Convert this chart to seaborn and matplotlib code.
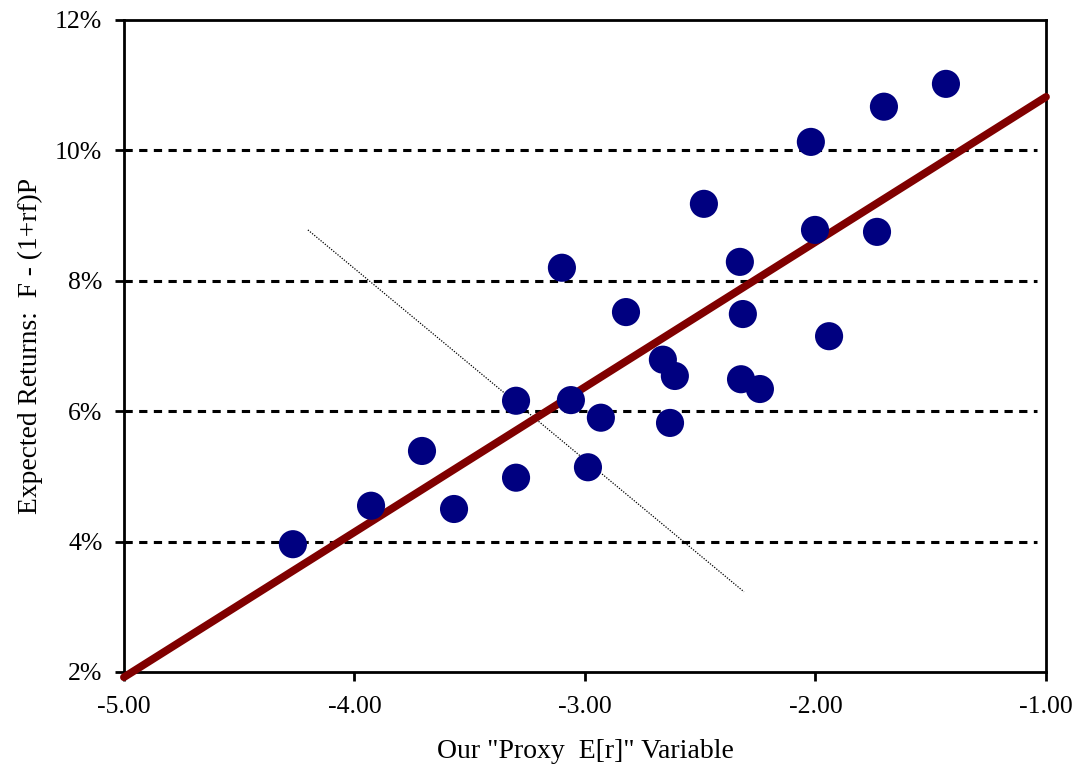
import matplotlib
matplotlib.use("Agg")
import matplotlib.pyplot as plt
import seaborn as sns
import pandas as pd
from matplotlib.ticker import FuncFormatter

# data (x = proxy E[r], y = expected returns in %)
proxy = [-4.267, -3.928, -3.707, -3.568, -3.299, -3.299, -3.100, -3.061, -2.987,
         -2.931, -2.822, -2.662, -2.610, -2.631, -2.484, -2.328, -2.315, -2.323,
         -2.241, -2.020, -2.002, -1.941, -1.733, -1.703, -1.434]
exp_ret = [3.96, 4.55, 5.39, 4.50, 6.16, 4.98, 8.20, 6.17, 5.14,
           5.90, 7.52, 6.79, 6.54, 5.82, 9.18, 8.29, 7.49, 6.49,
           6.34, 10.13, 8.78, 7.15, 8.75, 10.67, 11.02]

# fitted line end points
fit_x = [-5.0, -1.0]
fit_y = [1.92, 10.82]

# thin dotted line
dot_x = [-4.202, -2.310]
dot_y = [8.78, 3.23]

x_ticks = [-5, -4, -3, -2, -1]
y_ticks = [2, 4, 6, 8, 10, 12]
grid_levels = [4, 6, 8, 10]

df = pd.DataFrame({"proxy": proxy, "ret": exp_ret})
fit_df = pd.DataFrame({"x": fit_x, "y": fit_y})

sns.set_theme(style="white")
plt.rcParams["font.family"] = ["Liberation Serif", "DejaVu Serif"]

fig = plt.figure(figsize=(10.75, 7.68), dpi=100)
ax = fig.add_axes([0.1153, 0.125, 0.8577, 0.849])

for lv in grid_levels:
    ax.axhline(lv, xmax=0.99, color="black", linewidth=2.2, linestyle=(0, (2.7, 2.1)), zorder=1)

ax.plot(dot_x, dot_y, color="black", linewidth=0.9, linestyle=(0, (1, 1.2)), zorder=2)

sns.lineplot(data=fit_df, x="x", y="y", ax=ax, color="#800000", linewidth=5.6,
             zorder=3, solid_capstyle="round")
ax.lines[-1].set_clip_on(False)

sns.scatterplot(data=df, x="proxy", y="ret", ax=ax, color="#000080", s=410,
                edgecolor="none", zorder=4)

ax.set_xlim(-5, -1)
ax.set_ylim(2, 12)
ax.set_xticks(x_ticks)
ax.set_yticks(y_ticks)
ax.xaxis.set_major_formatter(FuncFormatter(lambda v, p: f"{v:.2f}"))
ax.yaxis.set_major_formatter(FuncFormatter(lambda v, p: f"{v:.0f}%"))

for sp in ax.spines.values():
    sp.set_visible(True)
    sp.set_color("black")
    sp.set_linewidth(2)

ax.tick_params(axis="both", which="major", direction="out", length=6.5, width=2,
               color="black", labelsize=18.5, labelcolor="black")
ax.tick_params(axis="y", left=True, pad=9)
ax.tick_params(axis="x", bottom=True, pad=11)

ax.set_xlabel('Our "Proxy  E[r]" Variable', fontsize=20, color="black", labelpad=15)
ax.set_ylabel("Expected Returns:  F - (1+rf)P", fontsize=19.8, color="black", labelpad=9)

fig.savefig("out.png", dpi=100)
